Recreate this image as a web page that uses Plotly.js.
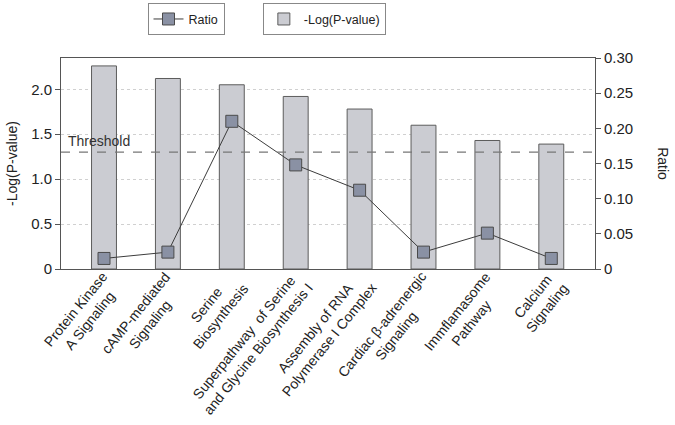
<!DOCTYPE html>
<html>
<head>
<meta charset="utf-8">
<script src="https://cdn.plot.ly/plotly-3.0.1.min.js"></script>
<style>html,body{margin:0;padding:0;background:#fff;}#chart{width:675px;height:425px;}</style>
</head>
<body>
<div id="chart"></div>
<script>
const categories = [
  "Protein Kinase<br>A Signaling",
  "cAMP-mediated<br>Signaling",
  "Serine<br>Biosynthesis",
  "Superpathway  of Serine<br>and Glycine Biosynthesis I",
  "Assembly of RNA<br>Polymerase I Complex",
  "Cardiac β-adrenergic<br>Signaling",
  "Immflamasome<br>Pathway",
  "Calcium<br>Signaling"
];
const logP = [2.26, 2.12, 2.05, 1.92, 1.78, 1.60, 1.43, 1.39];
const ratio = [0.015, 0.024, 0.210, 0.148, 0.112, 0.024, 0.051, 0.015];
const threshold = 1.3;
const leftTicks = [0, 0.5, 1.0, 1.5, 2.0];
const leftTickText = ["0", "0.5", "1.0", "1.5", "2.0"];
const rightTicks = [0, 0.05, 0.10, 0.15, 0.20, 0.25, 0.30];
const rightTickText = ["0", "0.05", "0.10", "0.15", "0.20", "0.25", "0.30"];

const FONT = "Liberation Sans, Arial, sans-serif";

const traces = [
  {
    type: "bar", x: categories, y: logP, name: "-Log(P-value)",
    yaxis: "y", legend: "legend2", width: 0.39,
    marker: {color: "#cbccd2", line: {color: "#5c5c5c", width: 1}}
  },
  {
    type: "scatter", mode: "lines+markers", x: categories, y: ratio, name: "Ratio",
    yaxis: "y2", legend: "legend",
    line: {color: "#3c3c3c", width: 1},
    marker: {symbol: "square", size: 12, color: "#8a91a4", line: {color: "#4a4a4a", width: 1}}
  }
];

// category labels drawn as centred, rotated text under each category
const catLabels = categories.map(c => ({
  text: c, xref: "x", x: c, yref: "paper", y: 0,
  xanchor: "right", yanchor: "top", xshift: 23, yshift: 3,
  textangle: -51, align: "center", showarrow: false,
  font: {family: FONT, size: 14, color: "#222"}
}));

const layout = {
  width: 675, height: 425,
  margin: {l: 61, r: 80, t: 58, b: 156, autoexpand: false},
  paper_bgcolor: "#fff", plot_bgcolor: "#fff",
  font: {family: FONT, size: 14, color: "#222"},
  showlegend: true,
  legend: {
    x: 0.162, y: 1.259, xanchor: "left", yanchor: "top",
    bordercolor: "#888", borderwidth: 1, bgcolor: "#fff",
    font: {family: FONT, size: 12.5, color: "#222"}
  },
  legend2: {
    x: 0.378, y: 1.259, xanchor: "left", yanchor: "top",
    bordercolor: "#888", borderwidth: 1, bgcolor: "#fff",
    font: {family: FONT, size: 12.5, color: "#222"}
  },
  xaxis: {
    type: "category", range: [-0.673, 7.684],
    showline: true, linecolor: "#555", linewidth: 1, mirror: true,
    showgrid: false, ticks: "", showticklabels: false
  },
  yaxis: {
    range: [0, 2.348], tickvals: leftTicks, ticktext: leftTickText,
    showline: true, linecolor: "#555", linewidth: 1,
    ticks: "outside", ticklen: 5, tickcolor: "#555",
    showgrid: true, gridcolor: "#d0d0d0", griddash: "dot", gridwidth: 1,
    zeroline: false,
    tickfont: {family: FONT, size: 15, color: "#222"},
    title: {text: "-Log(P-value)", font: {family: FONT, size: 14, color: "#222"}, standoff: 10}
  },
  yaxis2: {
    range: [0, 0.30], overlaying: "y", side: "right",
    tickvals: rightTicks, ticktext: rightTickText,
    showline: true, linecolor: "#555", linewidth: 1,
    ticks: "outside", ticklen: 5, tickcolor: "#555",
    showgrid: false, zeroline: false,
    tickfont: {family: FONT, size: 15, color: "#222"}
  },
  shapes: [{
    type: "line", xref: "paper", x0: 0, x1: 1, yref: "y", y0: threshold, y1: threshold,
    line: {color: "#777", width: 1.3, dash: "dash"}
  }],
  annotations: [
    {text: "Threshold", xref: "paper", x: 0.01, xanchor: "left", yref: "y", y: threshold,
     yanchor: "bottom", yshift: 1, showarrow: false, font: {family: FONT, size: 14, color: "#333"}},
    {text: "Ratio", xref: "paper", x: 1.128, xanchor: "center", yref: "paper", y: 0.5,
     yanchor: "middle", textangle: 90, showarrow: false, font: {family: FONT, size: 14, color: "#222"}}
  ].concat(catLabels)
};

Plotly.newPlot("chart", traces, layout, {displayModeBar: false, staticPlot: true});
</script>
</body>
</html>
